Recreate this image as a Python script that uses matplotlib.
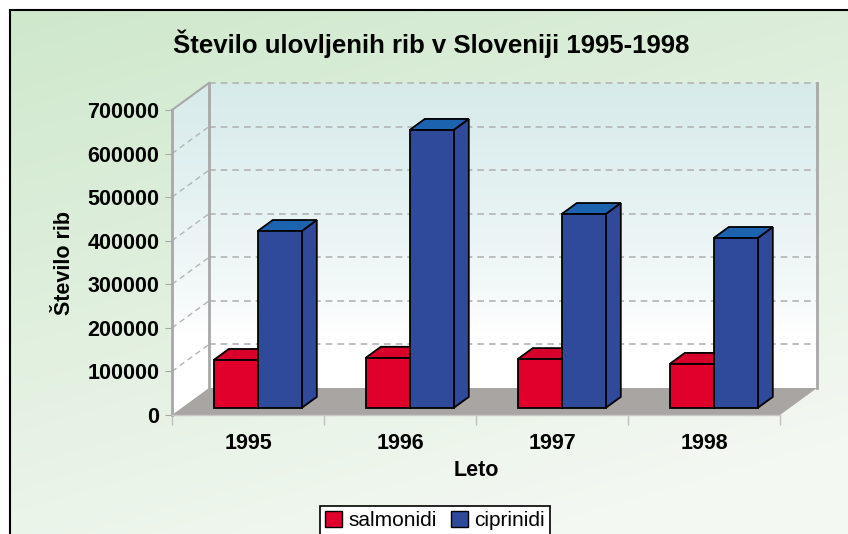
import matplotlib
matplotlib.use('Agg')
import matplotlib.pyplot as plt
import numpy as np
from matplotlib.patches import Polygon, Patch

plt.rcParams['font.family'] = ['Liberation Sans', 'DejaVu Sans']

# data
years = ['1995', '1996', '1997', '1998']
salmonidi = [110000, 115000, 112000, 101000]
ciprinidi = [406000, 638000, 445000, 390000]
yticks = [0, 100000, 200000, 300000, 400000, 500000, 600000, 700000]

W, H = 848, 534
fig = plt.figure(figsize=(W / 100, H / 100), dpi=100)
fig.patch.set_facecolor('white')

# greenish background with a black frame at top and left
bg = fig.add_axes([10 / W, 0, (W - 10) / W, (H - 10) / H])
yy, xx = np.mgrid[0:1:200j, 0:1:300j]
t = np.clip(0.75 * yy + 0.35 * xx, 0, 1)
c_top = np.array([0.81, 0.91, 0.80])
c_bot = np.array([0.96, 0.975, 0.955])
img = c_top[None, None, :] * (1 - t[..., None]) + c_bot[None, None, :] * t[..., None]
bg.imshow(img, aspect='auto', extent=[0, 1, 1, 0])
bg.set_xlim(0, 1)
bg.set_ylim(1, 0)
bg.set_xticks([])
bg.set_yticks([])
for s in ['right', 'bottom']:
    bg.spines[s].set_visible(False)
for s in ['left', 'top']:
    bg.spines[s].set_linewidth(1.5)
    bg.spines[s].set_color('black')

# axes = front plane of the 3d box
ax = fig.add_axes([172 / W, (H - 415) / H, 608 / W, 305 / H])
ax.set_facecolor('none')
xmin, xmax = -0.5, 3.5
ymax = 700000
DX = 37 * (xmax - xmin) / 608
DY = 27 * ymax / 305

grey = '#a8a8a8'

# walls with gradient
wall_top = np.array([0.845, 0.92, 0.92])
g = np.linspace(0, 1, 256)
gt = np.clip((g - 0.25) / 0.75, 0, 1) ** 0.7
wall_img = wall_top[None, :] * gt[:, None] + np.ones(3)[None, :] * (1 - gt[:, None])
wall_img = np.repeat(wall_img[:, None, :], 2, axis=1)

back = Polygon([(xmin + DX, DY), (xmax + DX, DY), (xmax + DX, ymax + DY), (xmin + DX, ymax + DY)],
               closed=True, facecolor='none', edgecolor='none')
side = Polygon([(xmin, 0), (xmin + DX, DY), (xmin + DX, ymax + DY), (xmin, ymax)],
               closed=True, facecolor='none', edgecolor='none')
for p in (back, side):
    ax.add_patch(p)
    p.set_clip_on(False)
    im = ax.imshow(wall_img, aspect='auto', origin='lower',
                   extent=[xmin, xmax + DX, 0, ymax + DY], zorder=0)
    im.set_clip_path(p)
    im.set_clip_box(fig.bbox)

# floor
floor = Polygon([(xmin, 0), (xmax, 0), (xmax + DX, DY), (xmin + DX, DY)],
                closed=True, facecolor='#a9a5a2', edgecolor='none', zorder=1, clip_on=False)
ax.add_patch(floor)

# gridlines on back and side walls
for v in yticks[1:]:
    ax.plot([xmin + DX, xmax + DX], [v + DY, v + DY], ls=(0, (4, 3)), color='#b4b4b4',
            lw=1.2, zorder=1, clip_on=False)
    if v < ymax:
        ax.plot([xmin, xmin + DX], [v, v + DY], ls=(0, (4, 3)), color='#b4b4b4',
                lw=1.0, zorder=1, clip_on=False)
ax.plot([xmin, xmin + DX], [ymax, ymax + DY], color=grey, lw=1.5, zorder=1, clip_on=False)
ax.plot([xmin + DX, xmin + DX], [DY, ymax + DY], color=grey, lw=2, zorder=1, clip_on=False)
ax.plot([xmax + DX, xmax + DX], [DY, ymax + DY], color=grey, lw=2, zorder=1, clip_on=False)

# bars
bw = 44 * (xmax - xmin) / 608
f0, bd = 0.26, 0.41
ox, oy = f0 * DX, f0 * DY
bx, by = bd * DX, bd * DY


def bar3d(x0, v, front, top, sidec):
    xa, xb = x0 + ox, x0 + bw + ox
    kw = dict(closed=True, edgecolor='black', lw=1.3, zorder=3, clip_on=False)
    ax.add_patch(Polygon([(xb, oy), (xb + bx, oy + by), (xb + bx, v + oy + by), (xb, v + oy)],
                         facecolor=sidec, **kw))
    ax.add_patch(Polygon([(xa, v + oy), (xb, v + oy), (xb + bx, v + oy + by), (xa + bx, v + oy + by)],
                         facecolor=top, **kw))
    ax.add_patch(Polygon([(xa, oy), (xb, oy), (xb, v + oy), (xa, v + oy)],
                         facecolor=front, **kw))


red = '#e0002b'
blue = '#2f4a9a'
for i in range(len(years)):
    bar3d(i - bw, salmonidi[i], red, '#d6002a', '#c40026')
    bar3d(i, ciprinidi[i], blue, '#1b63ae', '#30499b')

ax.set_xlim(xmin, xmax)
ax.set_ylim(0, ymax)

for s in ['top', 'right']:
    ax.spines[s].set_visible(False)
ax.spines['left'].set_color(grey)
ax.spines['left'].set_linewidth(2)
ax.spines['bottom'].set_color('#c8c8c8')
ax.spines['bottom'].set_linewidth(1)

ax.set_yticks(yticks)
ax.set_yticklabels([str(v) for v in yticks], fontsize=15.5, fontweight='bold')
ax.tick_params(axis='y', length=5, color=grey, pad=4)
ax.set_xticks(range(len(years)))
ax.set_xticklabels(years, fontsize=15.5, fontweight='bold')
ax.set_xticks(np.arange(xmin, xmax + 0.5, 1.0), minor=True)
ax.tick_params(axis='x', which='major', length=0, pad=13)
ax.tick_params(axis='x', which='minor', length=7, color='#c0c0c0', width=1)

fig.text(431 / W, 1 - 44 / H, 'Število ulovljenih rib v Sloveniji 1995-1998',
         ha='center', va='center', fontsize=18.5, fontweight='bold')
fig.text(65 / W, 1 - 263 / H, 'Število rib', rotation=90, ha='center', va='center',
         fontsize=15.5, fontweight='bold')
fig.text(476 / W, 1 - 470 / H, 'Leto', ha='center', va='center',
         fontsize=15.5, fontweight='bold')

handles = [Patch(facecolor=red, edgecolor='black', lw=1),
           Patch(facecolor=blue, edgecolor='black', lw=1)]
leg = fig.legend(handles, ['salmonidi', 'ciprinidi'], loc='upper left',
                 bbox_to_anchor=(320 / W, 1 - 506 / H), ncol=2, fontsize=15,
                 frameon=True, fancybox=False, edgecolor='black', framealpha=1,
                 handlelength=0.8, handleheight=0.8, handletextpad=0.3,
                 columnspacing=0.7, borderpad=0.25, borderaxespad=0)
leg.get_frame().set_linewidth(1.2)

fig.savefig('out.png', dpi=100)
